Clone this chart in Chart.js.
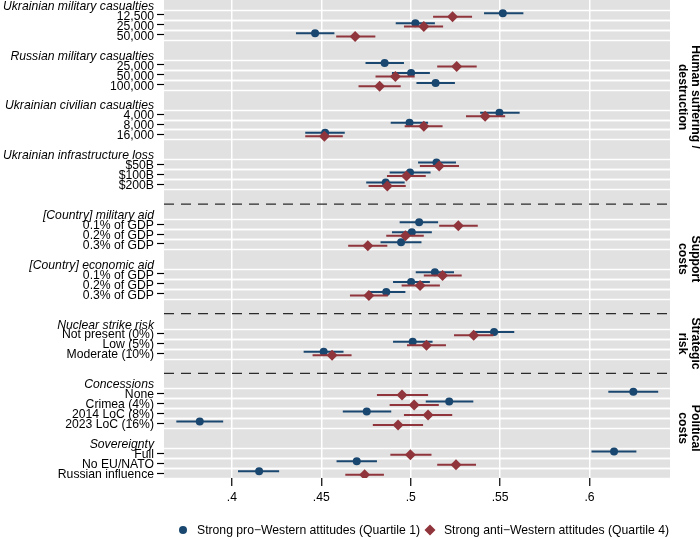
<!DOCTYPE html>
<html>
<head>
<meta charset="utf-8">
<title>Attitudes and costs coefficient plot</title>
<script src="https://cdn.jsdelivr.net/npm/chart.js"></script>
<style>body { margin: 0; background: #fff; }</style>
</head>
<body>
<canvas id="coefChart" width="700" height="538"></canvas>
<script>
// row layout: header rows, level rows, dashed dividers (slot numbers from the top)
var headerLabels = ['Ukrainian military casualties', 'Russian military casualties', 'Ukrainian civilian casualties',
    'Ukrainian infrastructure loss', '[Country] military aid', '[Country] economic aid',
    'Nuclear strike risk', 'Concessions', 'Sovereignty'];
var headerSlots = [0, 5, 10, 15, 21, 26, 32, 38, 44];

var rowLabels = ['12,500', '25,000', '50,000', '25,000', '50,000', '100,000', '4,000', '8,000', '16,000',
    '$50B', '$100B', '$200B', '0.1% of GDP', '0.2% of GDP', '0.3% of GDP', '0.1% of GDP', '0.2% of GDP',
    '0.3% of GDP', 'Not present (0%)', 'Low (5%)', 'Moderate (10%)', 'None', 'Crimea (4%)', '2014 LoC (8%)',
    '2023 LoC (16%)', 'Full', 'No EU/NATO', 'Russian influence'];
var rowSlots = [1, 2, 3, 6, 7, 8, 11, 12, 13, 16, 17, 18, 22, 23, 24, 27, 28, 29, 33, 34, 35, 39, 40, 41, 42, 45, 46, 47];

var dividerSlots = [20, 31, 37];

var groupLabels = [['Human suffering /', 'destruction'], ['Support', 'costs'], ['Strategic', 'risk'], ['Political', 'costs']];
var groupSpans = [[0, 18.5], [21, 30], [32, 36], [38, 47]];

// Quartile 1 (pro-Western)
var proEst = [0.5515, 0.5026, 0.4465, 0.4854, 0.5002, 0.5139, 0.5496, 0.4993, 0.4521, 0.5144, 0.4996, 0.4860,
    0.5047, 0.5006, 0.4946, 0.5135, 0.5002, 0.4863, 0.5466, 0.5011, 0.4513, 0.6245, 0.5215, 0.4754, 0.3820,
    0.6137, 0.4698, 0.4152];
var proLo = [0.5410, 0.4916, 0.4358, 0.4747, 0.4895, 0.5032, 0.5388, 0.4888, 0.4410, 0.5041, 0.4882, 0.4751,
    0.4938, 0.4895, 0.4831, 0.5028, 0.4901, 0.4760, 0.5354, 0.4901, 0.4401, 0.6105, 0.5084, 0.4620, 0.3689,
    0.6011, 0.4585, 0.4034];
var proHi = [0.5630, 0.5135, 0.4573, 0.4962, 0.5107, 0.5247, 0.5609, 0.5097, 0.4631, 0.5253, 0.5111, 0.4966,
    0.5153, 0.5118, 0.5060, 0.5242, 0.5107, 0.4970, 0.5579, 0.5122, 0.4624, 0.6384, 0.5350, 0.4891, 0.3951,
    0.6262, 0.4811, 0.4264];

// Quartile 4 (anti-Western)
var antiEst = [0.5234, 0.5073, 0.4689, 0.5257, 0.4914, 0.4826, 0.5416, 0.5073, 0.4517, 0.5159, 0.4976, 0.4869,
    0.5266, 0.4970, 0.4760, 0.5178, 0.5052, 0.4766, 0.5352, 0.5088, 0.4560, 0.4951, 0.5019, 0.5097, 0.4929,
    0.4998, 0.5253, 0.4742];
var antiLo = [0.5125, 0.4962, 0.4583, 0.5148, 0.4803, 0.4708, 0.5309, 0.4966, 0.4410, 0.5051, 0.4867, 0.4764,
    0.5159, 0.4863, 0.4650, 0.5073, 0.4949, 0.4660, 0.5242, 0.4979, 0.4451, 0.4811, 0.4882, 0.4962, 0.4788,
    0.4886, 0.5148, 0.4634];
var antiHi = [0.5343, 0.5181, 0.4802, 0.5369, 0.5022, 0.4944, 0.5528, 0.5178, 0.4620, 0.5270, 0.5084, 0.4972,
    0.5375, 0.5073, 0.4869, 0.5285, 0.5163, 0.4872, 0.5462, 0.5197, 0.4669, 0.5097, 0.5157, 0.5232, 0.5069,
    0.5116, 0.5365, 0.4850];

var xTicks = [0.4, 0.45, 0.5, 0.55, 0.6];
var xTickLabels = ['.4', '.45', '.5', '.55', '.6'];

var seriesNames = ['Strong pro\u2212Western attitudes (Quartile 1)', 'Strong anti\u2212Western attitudes (Quartile 4)'];

var BLUE = '#1a476f';
var RED = '#90353b';
var FONT = "'Liberation Sans', Arial, Helvetica, sans-serif";
var offset = 0.17;

Chart.defaults.font.family = FONT;
Chart.defaults.font.size = 12.2;
Chart.defaults.color = '#000';

var slotText = {};
headerSlots.forEach(function(s, i) { slotText[s] = headerLabels[i]; });
rowSlots.forEach(function(s, i) { slotText[s] = rowLabels[i]; });
var tickSlots = headerSlots.concat(rowSlots).sort(function(a, b) { return a - b; });
function isHeader(v) { return headerSlots.indexOf(v) >= 0; }

function points(est, shift) {
    return est.map(function(v, i) { return { x: v, y: rowSlots[i] + shift }; });
}
function ciSegments(lo, hi, shift) {
    var out = [];
    lo.forEach(function(v, i) {
        out.push({ x: v, y: rowSlots[i] + shift });
        out.push({ x: hi[i], y: rowSlots[i] + shift });
        out.push({ x: NaN, y: NaN });
    });
    return out;
}

var backdrop = {
    id: 'backdrop',
    beforeDraw: function(chart) {
        var a = chart.chartArea, ctx = chart.ctx, y = chart.scales.y;
        ctx.save();
        ctx.fillStyle = '#e1e1e1';
        ctx.fillRect(a.left, a.top, a.right - a.left, a.bottom - a.top);
        ctx.strokeStyle = '#ffffff';
        ctx.lineWidth = 1.6;
        rowSlots.forEach(function(s) {
            [s - 0.5, s + 0.5].forEach(function(v) {
                var py = Math.round(y.getPixelForValue(v)) + 0.5;
                ctx.beginPath();
                ctx.moveTo(a.left, py);
                ctx.lineTo(a.right, py);
                ctx.stroke();
            });
        });
        ctx.restore();
    },
    beforeDatasetsDraw: function(chart) {
        var a = chart.chartArea, ctx = chart.ctx, y = chart.scales.y;
        ctx.save();
        ctx.strokeStyle = '#2b2b2b';
        ctx.lineWidth = 1.3;
        ctx.setLineDash([10, 7]);
        dividerSlots.forEach(function(s) {
            var py = y.getPixelForValue(s);
            ctx.beginPath();
            ctx.moveTo(a.left, py);
            ctx.lineTo(a.right, py);
            ctx.stroke();
        });
        ctx.restore();
    },
    afterDraw: function(chart) {
        var a = chart.chartArea, ctx = chart.ctx, y = chart.scales.y;
        ctx.save();
        // group titles on the right
        ctx.fillStyle = '#000';
        ctx.font = 'bold 12.2px ' + FONT;
        ctx.textAlign = 'center';
        ctx.textBaseline = 'middle';
        groupLabels.forEach(function(lines, i) {
            var cy = y.getPixelForValue((groupSpans[i][0] + groupSpans[i][1]) / 2);
            ctx.save();
            ctx.translate(a.right + 25, cy);
            ctx.rotate(Math.PI / 2);
            lines.forEach(function(t, k) { ctx.fillText(t, 0, k * 12.5); });
            ctx.restore();
        });
        // legend
        ctx.font = '12.2px ' + FONT;
        ctx.textAlign = 'left';
        var ly = 530, x = 178;
        ctx.fillStyle = BLUE;
        ctx.beginPath();
        ctx.arc(x + 5, ly, 4, 0, Math.PI * 2);
        ctx.fill();
        ctx.fillStyle = '#000';
        ctx.fillText(seriesNames[0], x + 19, ly + 1);
        x = x + 19 + ctx.measureText(seriesNames[0]).width + 5;
        ctx.fillStyle = RED;
        ctx.beginPath();
        ctx.moveTo(x + 5, ly - 5.5);
        ctx.lineTo(x + 10.5, ly);
        ctx.lineTo(x + 5, ly + 5.5);
        ctx.lineTo(x - 0.5, ly);
        ctx.closePath();
        ctx.fill();
        ctx.fillStyle = '#000';
        ctx.fillText(seriesNames[1], x + 19, ly + 1);
        ctx.restore();
    }
};

var ctx = document.getElementById('coefChart').getContext('2d');
var coefChart = new Chart(ctx, {
    type: 'scatter',
    data: {
        datasets: [{
            label: seriesNames[1],
            data: points(antiEst, offset),
            pointStyle: 'rectRot',
            pointRadius: 5.5,
            backgroundColor: RED,
            borderColor: RED,
            borderWidth: 0
        }, {
            label: 'anti CI',
            data: ciSegments(antiLo, antiHi, offset),
            showLine: true,
            spanGaps: false,
            pointRadius: 0,
            borderColor: RED,
            borderWidth: 2
        }, {
            label: seriesNames[0],
            data: points(proEst, -offset),
            pointStyle: 'circle',
            pointRadius: 4,
            backgroundColor: BLUE,
            borderColor: BLUE,
            borderWidth: 0
        }, {
            label: 'pro CI',
            data: ciSegments(proLo, proHi, -offset),
            showLine: true,
            spanGaps: false,
            pointRadius: 0,
            borderColor: BLUE,
            borderWidth: 2
        }]
    },
    options: {
        responsive: false,
        animation: false,
        events: [],
        layout: { autoPadding: false, padding: { left: 0, right: 30, top: 0, bottom: 0 } },
        plugins: { legend: { display: false }, tooltip: { enabled: false } },
        scales: {
            x: {
                type: 'linear',
                min: 0.362,
                max: 0.645,
                afterBuildTicks: function(scale) {
                    scale.ticks = xTicks.map(function(v) { return { value: v }; });
                },
                afterFit: function(scale) {
                    scale.height = 60;
                    scale.paddingLeft = 0;
                    scale.paddingRight = 0;
                },
                border: { display: false },
                grid: { color: '#ffffff', lineWidth: 1.5, tickColor: '#000', tickLength: 8, tickWidth: 1.2 },
                ticks: {
                    padding: 4,
                    maxRotation: 0,
                    autoSkip: false,
                    callback: function(v, i) { return xTickLabels[i]; }
                }
            },
            y: {
                type: 'linear',
                reverse: true,
                min: -0.5,
                max: 47.5,
                afterBuildTicks: function(scale) {
                    scale.ticks = tickSlots.map(function(v) { return { value: v }; });
                },
                afterFit: function(scale) {
                    scale.width = 164;
                    scale.paddingTop = 0;
                    scale.paddingBottom = 0;
                },
                border: { display: false },
                grid: {
                    drawOnChartArea: false,
                    tickLength: 7,
                    tickWidth: 1.2,
                    tickColor: function(c) {
                        return c.tick && isHeader(c.tick.value) ? 'rgba(0,0,0,0)' : '#000';
                    }
                },
                ticks: {
                    autoSkip: false,
                    padding: 3,
                    labelOffset: 1.5,
                    font: function(c) {
                        var italic = c.tick && isHeader(c.tick.value);
                        return { family: FONT, size: 12.2, style: italic ? 'italic' : 'normal' };
                    },
                    callback: function(v) { return slotText[v]; }
                }
            }
        }
    },
    plugins: [backdrop]
});
</script>
</body>
</html>
